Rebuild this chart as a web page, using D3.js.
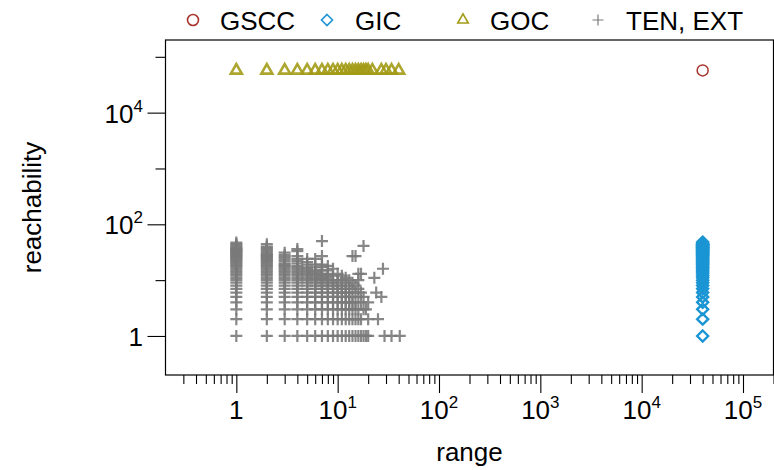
<!DOCTYPE html>
<html>
<head>
<meta charset="utf-8">
<script src="https://cdn.jsdelivr.net/npm/d3@7"></script>
<style>
  html, body { margin: 0; padding: 0; background: #fff; }
  svg { display: block; }
  text { font-family: "Liberation Sans", Arial, Helvetica, sans-serif; fill: #000; }
</style>
</head>
<body>
<svg id="chart" width="774" height="470"></svg>
<script>
// ---------------- data ----------------
const seriesNames = ["GSCC", "GIC", "GOC", "TEN, EXT"];
const seriesColors = ["#a8352c", "#1b95d4", "#a39b17", "#7a7a7a"];

// GSCC: single point
const gsccRange = [40000];
const gsccReach = [57000];

// GIC: range fixed, reachability values
const gicRange = 40000;
const gicReach = [1, 2, 3, 4, 5, 6, 7, 8, 9, 10, 11, 12, 13, 14, 15, 16, 17, 18, 19, 20,
  21, 22, 23, 24, 25, 26, 27, 28, 29, 30, 31, 32, 33, 34, 35, 36, 37, 38, 39, 40,
  41, 42, 43, 44, 45, 48];

// GOC: reachability fixed, range values
const gocRange = [1, 2, 3, 4, 5, 6, 7, 8, 9, 10, 11, 12, 13, 14, 15, 16, 17, 18, 19, 20,
  22, 27, 30, 34, 40];
const gocReach = 57000;

// TEN, EXT: per range value, list of reachability values
const tenRange = [1, 2, 3, 4, 5, 6, 7, 8, 9, 10, 11, 12, 13, 14, 15, 16, 17, 18, 19, 20,
  23, 24, 25, 27, 28, 29, 34, 41];
const tenReach = [
  [1, 2, 3, 4, 5, 6, 7, 8, 9, 10, 11, 12, 13, 14, 15, 16, 17, 18, 19, 20, 21, 22, 23, 24, 25,
   26, 27, 28, 29, 30, 31, 32, 33, 34, 35, 36, 37, 38, 40, 42, 44, 47],
  [1, 2, 3, 4, 5, 6, 7, 8, 9, 10, 11, 12, 13, 14, 15, 16, 17, 18, 19, 20, 21, 22, 23, 24, 25,
   26, 27, 28, 29, 30, 32, 34, 36, 38, 40, 44],
  [1, 2, 3, 4, 5, 6, 7, 8, 9, 10, 11, 12, 13, 14, 15, 16, 17, 18, 19, 20, 22, 24, 26, 28, 31],
  [1, 2, 3, 4, 5, 6, 7, 8, 9, 10, 11, 12, 13, 14, 15, 16, 17, 18, 20, 22, 24, 27, 33, 36],
  [1, 2, 3, 4, 5, 6, 7, 8, 9, 10, 11, 12, 13, 14, 15, 16, 17, 19, 21, 24],
  [1, 2, 3, 4, 5, 6, 7, 8, 9, 10, 11, 12, 13, 14, 15, 17, 19, 24],
  [1, 2, 3, 4, 5, 6, 7, 8, 9, 10, 11, 12, 13, 15, 17, 19, 27, 50],
  [1, 2, 3, 4, 5, 6, 7, 8, 9, 10, 11, 12, 13, 15, 18],
  [1, 2, 3, 4, 5, 6, 7, 8, 9, 10, 12, 16],
  [1, 2, 3, 4, 5, 6, 7, 8, 9, 10, 13],
  [1, 2, 3, 4, 5, 6, 7, 8, 10, 12],
  [1, 2, 3, 4, 5, 6, 7, 9, 11],
  [1, 2, 3, 4, 5, 6, 8, 10],
  [1, 2, 3, 4, 5, 7, 9, 27],
  [1, 2, 3, 4, 6, 8, 27],
  [1, 2, 3, 5, 7, 10, 13],
  [1, 2, 4, 6, 13],
  [1, 3, 5, 41],
  [1, 3],
  [1, 2, 4],
  [11],
  [6],
  [2],
  [5],
  [16],
  [1],
  [1],
  [1]
];

const xTickMajor = [1, 10, 100, 1000, 10000, 100000];
const xTickLabels = [["1", ""], ["10", "1"], ["10", "2"], ["10", "3"], ["10", "4"], ["10", "5"]];
const yTickMajor = [1, 100, 10000];
const yTickLabels = [["1", ""], ["10", "2"], ["10", "4"]];
const yTickMinor = [10, 1000, 100000];
const xTitle = "range";
const yTitle = "reachability";

// ---------------- layout ----------------
const svg = d3.select("#chart");
const plot = { left: 165.5, right: 773.5, top: 40, bottom: 375 };

const x = d3.scaleLog().domain([0.2, 200000]).range([plot.left, plot.right]);
const y = d3.scaleLog().domain([0.2, 200000]).range([plot.bottom, plot.top]);

const FONT = 26, SUP = 17;

// box
svg.append("rect")
  .attr("x", plot.left).attr("y", plot.top)
  .attr("width", plot.right - plot.left).attr("height", plot.bottom - plot.top)
  .attr("fill", "none").attr("stroke", "#000").attr("stroke-width", 1.2);

// x axis ticks
const xMinor = [];
for (let e = -1; e <= 5; e++) {
  for (let m = 2; m <= 9; m++) {
    const v = m * Math.pow(10, e);
    if (v > 0.2 && v <= 200000) xMinor.push(v);
  }
}
const xAxisMinor = d3.axisBottom(x).tickValues(xMinor).tickSize(9).tickFormat("");
const xAxisMajor = d3.axisBottom(x).tickValues(xTickMajor).tickSize(18).tickFormat("");
[xAxisMinor, xAxisMajor].forEach(ax => {
  const g = svg.append("g").attr("transform", `translate(0,${plot.bottom})`).call(ax);
  g.select(".domain").remove();
  g.selectAll("line").attr("stroke", "#000").attr("stroke-width", 1.1);
});

const xl = svg.append("g");
xTickMajor.forEach((v, i) => {
  const t = xl.append("text").attr("x", x(v)).attr("y", 419)
    .attr("text-anchor", "middle").attr("font-size", FONT);
  t.append("tspan").text(xTickLabels[i][0]);
  if (xTickLabels[i][1]) t.append("tspan").attr("font-size", SUP).attr("dy", -11).text(xTickLabels[i][1]);
});

// y axis ticks
const yAxisMinor = d3.axisLeft(y).tickValues(yTickMinor).tickSize(10).tickFormat("");
const yAxisMajor = d3.axisLeft(y).tickValues(yTickMajor).tickSize(18).tickFormat("");
[yAxisMinor, yAxisMajor].forEach(ax => {
  const g = svg.append("g").attr("transform", `translate(${plot.left},0)`).call(ax);
  g.select(".domain").remove();
  g.selectAll("line").attr("stroke", "#000").attr("stroke-width", 1.1);
});
const yl = svg.append("g");
yTickMajor.forEach((v, i) => {
  const t = yl.append("text").attr("x", 143).attr("y", y(v) + 10)
    .attr("text-anchor", "end").attr("font-size", FONT);
  t.append("tspan").text(yTickLabels[i][0]);
  if (yTickLabels[i][1]) t.append("tspan").attr("font-size", SUP).attr("dy", -11).text(yTickLabels[i][1]);
});

// titles
svg.append("text").attr("x", (plot.left + plot.right) / 2).attr("y", 461)
  .attr("text-anchor", "middle").attr("font-size", FONT).text(xTitle);
svg.append("text").attr("transform", `translate(41,${(plot.top + plot.bottom) / 2}) rotate(-90)`)
  .attr("text-anchor", "middle").attr("font-size", FONT).text(yTitle);

// ---------------- markers ----------------
function circlePath(r) { return `M${r},0A${r},${r} 0 1,1 ${-r},0A${r},${r} 0 1,1 ${r},0Z`; }
function diamondPath(s) { return `M0,${-s}L${s},0L0,${s}L${-s},0Z`; }
function trianglePath(w) { const h = w * Math.sqrt(3) / 2; return `M0,${-2*h/3}L${w/2},${h/3}L${-w/2},${h/3}Z`; }
function plusPath(s) { return `M${-s},0H${s}M0,${-s}V${s}`; }

const pts = svg.append("g");

// TEN, EXT
const tenPts = [];
tenRange.forEach((r, i) => tenReach[i].forEach(v => tenPts.push([r, v])));
pts.append("g").selectAll("path").data(tenPts).join("path")
  .attr("transform", d => `translate(${x(d[0])},${y(d[1])})`)
  .attr("d", plusPath(6))
  .attr("fill", "none").attr("stroke", seriesColors[3]).attr("stroke-width", 2.2).attr("stroke-opacity", 0.9);

// GOC
pts.append("g").selectAll("path").data(gocRange).join("path")
  .attr("transform", d => `translate(${x(d)},${y(gocReach)})`)
  .attr("d", trianglePath(11))
  .attr("fill", "none").attr("stroke", seriesColors[2]).attr("stroke-width", 2.6).attr("stroke-opacity", 0.9);

// GIC
pts.append("g").selectAll("path").data(gicReach).join("path")
  .attr("transform", d => `translate(${x(gicRange)},${y(d)})`)
  .attr("d", diamondPath(5.5))
  .attr("fill", "none").attr("stroke", seriesColors[1]).attr("stroke-width", 2.4);

// GSCC
pts.append("g").selectAll("path").data(gsccRange).join("path")
  .attr("transform", (d, i) => `translate(${x(d)},${y(gsccReach[i])})`)
  .attr("d", circlePath(5.5))
  .attr("fill", "none").attr("stroke", seriesColors[0]).attr("stroke-width", 1.5);

// ---------------- legend ----------------
const legendMarkerX = [193, 327, 463, 598];
const legendTextX = [220, 355, 490, 626];
const legendShapes = [circlePath(5.5), diamondPath(5.5), trianglePath(10.5), plusPath(5.5)];
const lg = svg.append("g");
seriesNames.forEach((name, i) => {
  lg.append("path").attr("transform", `translate(${legendMarkerX[i]},20)`)
    .attr("d", legendShapes[i]).attr("fill", "none")
    .attr("stroke", seriesColors[i]).attr("stroke-width", i === 3 ? 1.2 : 1.6);
  lg.append("text").attr("x", legendTextX[i]).attr("y", 29.5)
    .attr("font-size", FONT).text(name);
});
</script>
</body>
</html>
